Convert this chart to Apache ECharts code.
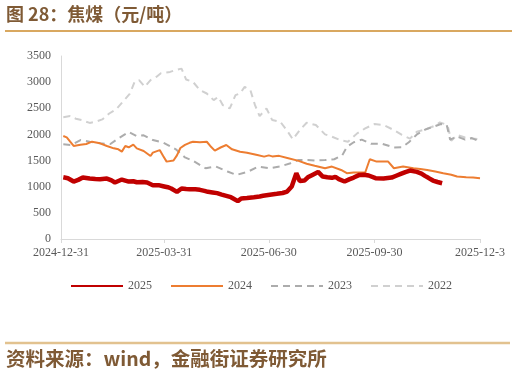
<!DOCTYPE html>
<html lang="zh">
<head>
    <meta charset="UTF-8">
    <script src="https://cdn.jsdelivr.net/npm/echarts@6/dist/echarts.min.js"></script>
    <style>
        html, body { margin: 0; padding: 0; background: #fff; }
        #main { width: 516px; height: 376px; }
    </style>
</head>
<body>
    <div id="main"></div>
    <script>
        // x = days since 2024-12-31, y = 元/吨
        var tickDays = [0, 90, 181, 273, 365];
        var tickLabels = ['2024-12-31', '2025-03-31', '2025-06-30', '2025-09-30', '2025-12-3'];
        var legendNames = ['2025', '2024', '2023', '2022'];

        var s2025 = [[2,1180],[6,1163],[11,1099],[15,1131],[19,1175],[25,1156],[30,1148],[34,1144],[40,1156],[44,1120],
            [47,1080],[53,1137],[59,1099],[63,1105],[66,1086],[71,1090],[75,1080],[80,1029],[85,1030],[89,1010],
            [93,990],[96,966],[101,902],[105,966],[109,955],[112,953],[117,950],[121,940],[125,920],[128,902],
            [132,890],[136,877],[140,850],[144,826],[148,800],[150,775],[154,724],[157,775],[162,785],[168,800],
            [173,813],[176,826],[182,845],[188,864],[193,880],[197,908],[201,1004],[205,1258],[208,1110],[212,1118],
            [215,1180],[219,1226],[224,1283],[228,1194],[232,1180],[236,1170],[239,1190],[242,1144],[247,1099],[251,1140],
            [255,1175],[260,1226],[264,1230],[268,1215],[274,1163],[281,1156],[288,1175],[292,1210],[296,1245],[300,1280],
            [304,1309],[310,1283],[314,1250],[317,1207],[320,1170],[324,1118],[328,1090],[332,1067]];

        var s2024 = [[2,1969],[5,1944],[8,1861],[11,1779],[17,1804],[22,1817],[27,1861],[34,1830],[40,1779],[46,1734],
            [50,1715],[53,1671],[56,1779],[59,1754],[63,1804],[66,1734],[72,1684],[78,1588],[80,1652],[86,1700],
            [89,1588],[92,1480],[98,1500],[101,1600],[104,1740],[108,1800],[112,1840],[115,1860],[121,1850],[127,1860],
            [130,1780],[134,1690],[139,1750],[144,1797],[149,1715],[156,1670],[162,1650],[171,1607],[177,1575],[181,1600],
            [184,1580],[190,1590],[198,1545],[207,1494],[214,1440],[221,1400],[230,1353],[236,1385],[244,1320],[249,1258],
            [255,1271],[265,1271],[269,1525],[275,1480],[285,1480],[290,1353],[298,1385],[307,1353],[313,1340],[319,1321],
            [326,1290],[333,1258],[340,1230],[345,1194],[353,1182],[359,1175],[365,1163]];

        var s2023 = [[2,1811],[9,1798],[17,1893],[25,1861],[34,1830],[43,1817],[50,1925],[59,2046],[66,1969],[72,1982],
            [80,1893],[89,1845],[100,1715],[108,1560],[115,1495],[126,1353],[135,1385],[145,1290],[153,1226],[163,1290],
            [172,1385],[182,1353],[192,1394],[200,1450],[207,1512],[215,1512],[222,1500],[230,1510],[238,1525],[245,1600],
            [249,1760],[255,1850],[262,1900],[270,1820],[280,1820],[290,1750],[297,1754],[303,1850],[310,2000],[318,2100],
            [325,2150],[331,2200],[336,2180],[339,1900],[345,1960],[352,1900],[358,1930],[362,1890]];

        var s2022 = [[2,2330],[8,2351],[13,2300],[18,2274],[25,2220],[30,2243],[36,2287],[42,2400],[48,2480],[54,2630],
            [60,2780],[64,3000],[68,3040],[73,2910],[78,3040],[83,3100],[87,3170],[95,3196],[99,3227],[105,3259],
            [109,3050],[115,3005],[121,2846],[127,2783],[133,2656],[137,2719],[141,2560],[147,2497],[152,2751],[156,2783],
            [160,2910],[165,2846],[169,2560],[173,2351],[179,2497],[184,2274],[191,2243],[197,2071],[202,1906],[208,2084],
            [214,2224],[222,2179],[230,2001],[236,1957],[243,1893],[250,1861],[258,2020],[265,2116],[273,2198],[281,2179],
            [290,2084],[297,1990],[304,1920],[310,2050],[318,2100],[326,2170],[330,2230],[334,2200],[337,2150],[340,1880],
            [345,1990],[352,1940],[358,1920],[363,1910]];

        var serif = 'Liberation Serif';
        var cjk = 'Noto Sans CJK SC';
        var brown = '#7f5a35';

        var chart = echarts.init(document.getElementById('main'));

        chart.setOption({
            animation: false,
            backgroundColor: '#fff',
            graphic: [
                { type: 'text', left: 6, top: 5, style: { text: '图 28：焦煤（元/吨）', fontFamily: cjk, fontSize: 18, fontWeight: 'bold', fill: brown } },
                { type: 'line', shape: { x1: 5, y1: 31, x2: 512, y2: 31 }, style: { stroke: '#d9a860', lineWidth: 2 } },
                { type: 'line', shape: { x1: 5, y1: 343, x2: 510, y2: 343 }, style: { stroke: '#e2c28f', lineWidth: 2.5 } },
                { type: 'text', left: 6, top: 349, style: { text: '资料来源：wind，金融街证券研究所', fontFamily: cjk, fontSize: 19.5, fontWeight: 'bold', fill: brown } }
            ],
            grid: { left: 61, right: 36, top: 56, bottom: 137 },
            legend: {
                data: legendNames,
                left: 65,
                top: 275,
                itemWidth: 52,
                itemHeight: 12,
                itemGap: 18,
                itemStyle: { opacity: 0 },
                textStyle: { fontFamily: serif, fontSize: 12, color: '#595959' }
            },
            xAxis: {
                type: 'value',
                min: 0,
                max: 365,
                splitLine: { show: false },
                axisLine: { lineStyle: { color: '#d9d9d9' } },
                axisTick: { show: true, length: 4, customValues: tickDays, lineStyle: { color: '#d9d9d9' } },
                axisLabel: {
                    customValues: tickDays,
                    margin: 8,
                    fontFamily: serif,
                    fontSize: 12,
                    color: '#595959',
                    formatter: function (v) {
                        return tickLabels[tickDays.indexOf(v)];
                    }
                }
            },
            yAxis: {
                type: 'value',
                min: 0,
                max: 3500,
                interval: 500,
                splitLine: { show: false },
                axisLine: { show: true, lineStyle: { color: '#d9d9d9' } },
                axisTick: { show: false },
                axisLabel: {
                    margin: 10,
                    fontFamily: serif,
                    fontSize: 12,
                    color: '#595959',
                    formatter: function (v) { return String(v); }
                }
            },
            series: [
                { name: '2022', type: 'line', data: s2022, symbol: 'none', lineStyle: { color: '#d0d0d0', width: 2, type: [7, 5] }, itemStyle: { color: '#d0d0d0' } },
                { name: '2023', type: 'line', data: s2023, symbol: 'none', lineStyle: { color: '#acacac', width: 2, type: [7, 5] }, itemStyle: { color: '#acacac' } },
                { name: '2024', type: 'line', data: s2024, symbol: 'none', lineStyle: { color: '#ed7d31', width: 2 }, itemStyle: { color: '#ed7d31' } },
                { name: '2025', type: 'line', data: s2025, symbol: 'none', lineStyle: { color: '#c00000', width: 4.5 }, itemStyle: { color: '#c00000' } }
            ]
        });
    </script>
</body>
</html>
